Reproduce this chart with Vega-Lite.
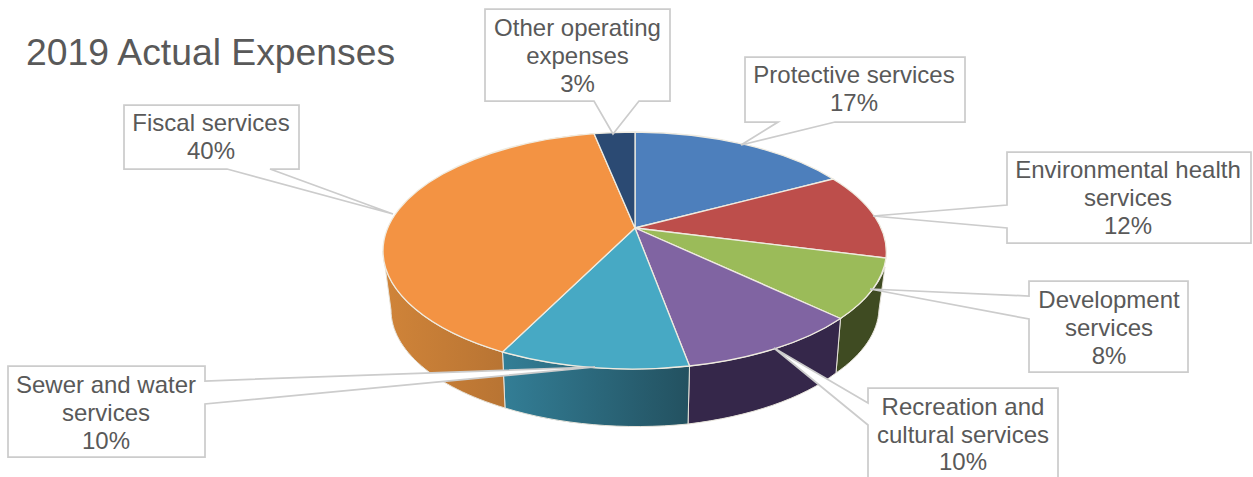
{
"$schema":"https://vega.github.io/schema/vega-lite/v6.json",
"width":1253,"height":477,"padding":0,"autosize":{"type":"none"},
"background":"white",
"view":{"stroke":null},
"config":{"text":{"font":"Liberation Sans"}},
"title":{"text":"2019 Actual Expenses","anchor":"start","frame":"group","orient":"top","dx":26,"offset":-91,"baseline":"middle","font":"Liberation Sans","fontSize":37.3,"fontWeight":"normal","color":"#595959"},
"data":{"values":[
{"name":"Protective services","label":"Protective services","percent":17},
{"name":"Environmental health services","label":"Environmental health\nservices","percent":12},
{"name":"Development services","label":"Development\nservices","percent":8},
{"name":"Recreation and cultural services","label":"Recreation and\ncultural services","percent":10},
{"name":"Sewer and water services","label":"Sewer and water\nservices","percent":10},
{"name":"Fiscal services","label":"Fiscal services","percent":40},
{"name":"Other operating expenses","label":"Other operating\nexpenses","percent":3}
]},
"transform":[{"calculate":"datum.label+'\\n'+datum.percent+'%'","as":"text"}],
"resolve":{"scale":{"shape":"independent","fill":"independent"}},
"layer":[
{"transform":[{"filter":{"field":"name","oneOf":["Development services","Recreation and cultural services"]}}],
"mark":{"type":"point","filled":true,"opacity":1,"size":4,"stroke":"#E6E3DA","strokeWidth":1},
"encoding":{
"shape":{"field":"name","type":"nominal","legend":null,"scale":{"domain":["Development services","Recreation and cultural services"],"range":[
"M214,80 A252,119 0 0 0 258.5,28.5 L252.5,71.5 A244,116 0 0 1 209.5,134.5 Z",
"M63,127.5 A252,119 0 0 0 214,80 L209.5,134.5 A244,116 0 0 1 61.5,185.5 Z"]}},
"fill":{"field":"name","type":"nominal","legend":null,"scale":{"domain":["Development services","Recreation and cultural services"],"range":["#3F4B22","#35274A"]}}
}},
{"transform":[{"filter":{"field":"name","equal":"Sewer and water services"}}],
"mark":{"type":"point","filled":true,"opacity":1,"size":4,"stroke":"#E6E3DA","strokeWidth":1,"fill":{"gradient":"linear","x1":0,"x2":1,"y1":0,"y2":0,"stops":[{"offset":0,"color":"#337E96"},{"offset":1,"color":"#235160"}]}},
"encoding":{
"shape":{"field":"name","type":"nominal","legend":null,"scale":{"domain":["Sewer and water services"],"range":["M-124,113.5 A252,119 0 0 0 63,127.5 L61.5,185.5 A244,116 0 0 1 -121.5,169.5 Z"]}}
}},
{"transform":[{"filter":{"field":"name","equal":"Fiscal services"}}],
"mark":{"type":"point","filled":true,"opacity":1,"size":4,"stroke":"#E6E3DA","strokeWidth":1,"fill":{"gradient":"linear","x1":0,"x2":1,"y1":0,"y2":0,"stops":[{"offset":0,"color":"#D08439"},{"offset":1,"color":"#B87433"}]}},
"encoding":{
"shape":{"field":"name","type":"nominal","legend":null,"scale":{"domain":["Fiscal services"],"range":["M-243.5,12.5 L-235.5,71.5 A244,116 0 0 0 -121.5,169.5 L-124,113.5 A252,119 0 0 1 -243.5,12.5 Z"]}}
}},
{"mark":{"type":"point","filled":true,"opacity":1,"size":4,"stroke":"#EFEBE0","strokeWidth":1.3},
"encoding":{
"shape":{"field":"name","type":"nominal","legend":null,"scale":{"domain":["Protective services","Environmental health services","Development services","Recreation and cultural services","Sewer and water services","Fiscal services","Other operating expenses"],"range":[
"M8.5,-10.5 L8.5,-106.5 A252,119 0 0 1 206.5,-59.5 Z",
"M8.5,-10.5 L206.5,-59.5 A252,119 0 0 1 259.5,19.5 Z",
"M8.5,-10.5 L259.5,19.5 A252,119 0 0 1 214,80 Z",
"M8.5,-10.5 L214,80 A252,119 0 0 1 63,127.5 Z",
"M8.5,-10.5 L63,127.5 A252,119 0 0 1 -124,113.5 Z",
"M8.5,-10.5 L-124,113.5 A252,119 0 0 1 -243.5,12.5 A252,119 0 0 1 -32.5,-104.9 Z",
"M8.5,-10.5 L-32.5,-104.9 A252,119 0 0 1 8.5,-106.5 Z"]}},
"fill":{"field":"name","type":"nominal","legend":null,"scale":{"domain":["Protective services","Environmental health services","Development services","Recreation and cultural services","Sewer and water services","Fiscal services","Other operating expenses"],"range":["#4D7FBC","#BD4E4B","#9BBB59","#8064A2","#47A9C4","#F39343","#2B4A73"]}}
}},
{"mark":{"type":"point","filled":true,"fill":"white","opacity":1,"size":4,"stroke":"#CCCCCC","strokeWidth":1.75},
"encoding":{
"shape":{"field":"name","type":"nominal","legend":null,"scale":{"domain":["Protective services","Environmental health services","Development services","Recreation and cultural services","Sewer and water services","Fiscal services","Other operating expenses"],"range":[
"M118.5,-181.5 L338.5,-181.5 L338.5,-116.5 L208.5,-116.5 L114.5,-93.5 L151.5,-116.5 L118.5,-116.5 Z",
"M380.5,-86.5 L624.5,-86.5 L624.5,4.5 L380.5,4.5 L380.5,-10.5 L246.5,-22.5 L380.5,-33.5 Z",
"M402.5,42.5 L561.5,42.5 L561.5,133.5 L402.5,133.5 L402.5,80.5 L243.5,50.5 L402.5,57.5 Z",
"M241.5,149.5 L431.5,149.5 L431.5,241.5 L241.5,241.5 L241.5,186.5 L147.5,109.5 L241.5,164.5 Z",
"M-618.5,127.5 L-421.5,127.5 L-421.5,142.5 L-31.5,128.5 L-421.5,165.5 L-421.5,218.5 L-618.5,218.5 Z",
"M-502.5,-133.5 L-327.5,-133.5 L-327.5,-69.5 L-356.5,-69.5 L-233.5,-24.5 L-399.5,-69.5 L-502.5,-69.5 Z",
"M-141.5,-229.5 L43.5,-229.5 L43.5,-137.5 L12.5,-137.5 L-13.5,-104.5 L-32.5,-137.5 L-141.5,-137.5 Z"]}}
}},
{"transform":[{"filter":{"field":"name","equal":"Protective services"}}],"mark":{"type":"text","dx":227.5,"dy":-163,"align":"center","baseline":"middle","lineBreak":"\n","lineHeight":28,"fontSize":24,"color":"#595959"},"encoding":{"text":{"field":"text","type":"nominal"}}},
{"transform":[{"filter":{"field":"name","equal":"Environmental health services"}}],"mark":{"type":"text","dx":501.5,"dy":-67.5,"align":"center","baseline":"middle","lineBreak":"\n","lineHeight":28,"fontSize":24,"color":"#595959"},"encoding":{"text":{"field":"text","type":"nominal"}}},
{"transform":[{"filter":{"field":"name","equal":"Development services"}}],"mark":{"type":"text","dx":482.5,"dy":62.5,"align":"center","baseline":"middle","lineBreak":"\n","lineHeight":28,"fontSize":24,"color":"#595959"},"encoding":{"text":{"field":"text","type":"nominal"}}},
{"transform":[{"filter":{"field":"name","equal":"Recreation and cultural services"}}],"mark":{"type":"text","dx":336.5,"dy":169.5,"align":"center","baseline":"middle","lineBreak":"\n","lineHeight":27.5,"fontSize":24,"color":"#595959"},"encoding":{"text":{"field":"text","type":"nominal"}}},
{"transform":[{"filter":{"field":"name","equal":"Sewer and water services"}}],"mark":{"type":"text","dx":-520.5,"dy":147.5,"align":"center","baseline":"middle","lineBreak":"\n","lineHeight":28,"fontSize":24,"color":"#595959"},"encoding":{"text":{"field":"text","type":"nominal"}}},
{"transform":[{"filter":{"field":"name","equal":"Fiscal services"}}],"mark":{"type":"text","dx":-415.5,"dy":-114.5,"align":"center","baseline":"middle","lineBreak":"\n","lineHeight":28,"fontSize":24,"color":"#595959"},"encoding":{"text":{"field":"text","type":"nominal"}}},
{"transform":[{"filter":{"field":"name","equal":"Other operating expenses"}}],"mark":{"type":"text","dx":-49,"dy":-209.5,"align":"center","baseline":"middle","lineBreak":"\n","lineHeight":28,"fontSize":24,"color":"#595959"},"encoding":{"text":{"field":"text","type":"nominal"}}}
]
}
